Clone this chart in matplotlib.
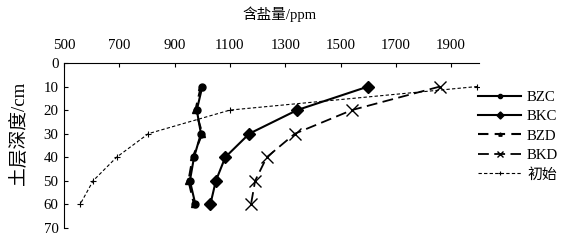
import matplotlib.pyplot as plt

plt.rcParams['font.family'] = ['Liberation Serif', 'Noto Sans CJK SC']
plt.rcParams['font.size'] = 10.7

depth = [10, 20, 30, 40, 50, 60]
bzc = [1000, 980, 995, 970, 955, 975]
bkc = [1600, 1343, 1170, 1083, 1049, 1029]
bzd = [995, 975, 1000, 965, 950, 970]
bkd = [1860, 1541, 1335, 1233, 1191, 1176]
init = [1995, 1100, 805, 690, 605, 558]

xticks = [500, 700, 900, 1100, 1300, 1500, 1700, 1900]
yticks = [0, 10, 20, 30, 40, 50, 60, 70]

fig = plt.figure(figsize=(5.62, 2.43), dpi=100)
ax = fig.add_axes([0.114, 0.062, 0.738, 0.679])

ax.plot(bzc, depth, '-o', color='black', lw=1.5, ms=5, label='BZC')
ax.plot(bkc, depth, '-D', color='black', lw=1.5, ms=6, label='BKC')
ax.plot(bzd, depth, '--^', color='black', lw=1.5, ms=4, dashes=(5, 3), label='BZD')
ax.plot(bkd, depth, '--x', color='black', lw=1.3, ms=8, mew=1.0, dashes=(6, 3), label='BKD')
ax.plot(init, depth, '--+', color='black', lw=0.8, ms=5, mew=0.8, dashes=(3, 2), label='初始')

ax.set_xlim(500, 2000)
ax.set_ylim(70, 0)
ax.set_xticks(xticks)
ax.set_yticks(yticks)
ax.xaxis.tick_top()
ax.tick_params(direction='in', length=3, width=0.8, pad=4)
ax.tick_params(axis='x', pad=8)
for s in ['right', 'bottom']:
    ax.spines[s].set_visible(False)
for s in ['top', 'left']:
    ax.spines[s].set_linewidth(0.8)

fig.text(0.497, 0.94, '含盐量/ppm', ha='center', va='center', fontsize=10.5)
fig.text(0.035, 0.45, '土层深度/cm', ha='center', va='center', rotation=90, fontsize=13.5)

fig.legend(loc='center left', bbox_to_anchor=(0.84, 0.44), frameon=False,
           handlelength=2.9, handletextpad=0.4, labelspacing=0.4, borderaxespad=0,
           markerscale=0.6)

fig.savefig('out.png', dpi=100)
